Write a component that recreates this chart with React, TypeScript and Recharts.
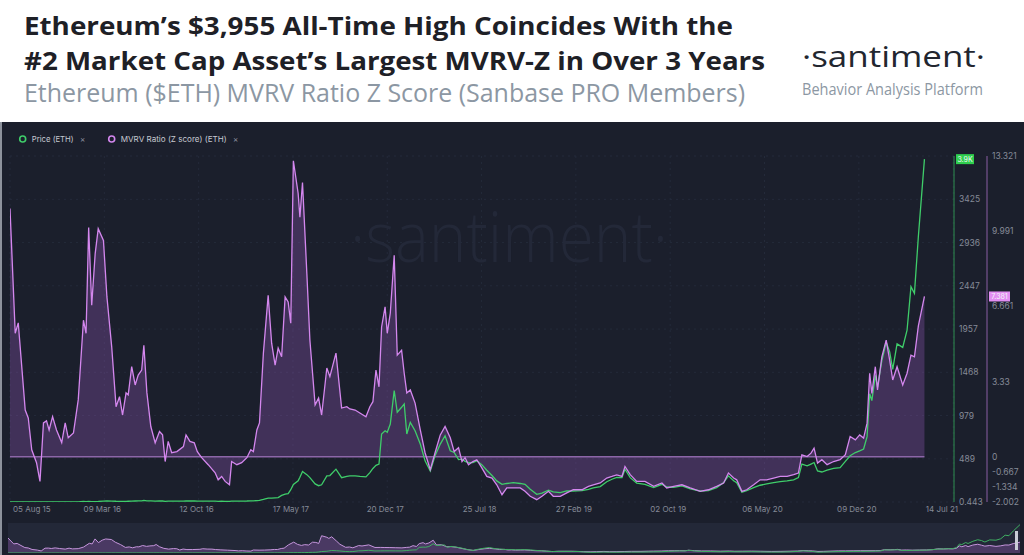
import React from 'react';
import { ComposedChart, Area, Line, XAxis, YAxis, CartesianGrid, ReferenceLine } from 'recharts';

const dates = [
  "2015-08-05","2015-08-17","2015-08-24","2015-09-09","2015-09-16","2015-09-24","2015-10-05","2015-10-13","2015-10-21","2015-10-28",
  "2015-11-03","2015-11-11","2015-11-20","2015-12-02","2015-12-10","2015-12-17","2015-12-29","2016-01-09","2016-01-21","2016-01-27",
  "2016-02-02","2016-02-09","2016-02-17","2016-02-24","2016-03-07","2016-03-15","2016-03-26","2016-04-05","2016-04-13","2016-04-20",
  "2016-04-28","2016-05-03","2016-05-11","2016-05-19","2016-05-26","2016-06-03","2016-06-08","2016-06-15","2016-06-24","2016-07-04",
  "2016-07-14","2016-07-21","2016-07-27","2016-08-03","2016-08-11","2016-08-23","2016-09-07","2016-09-13","2016-09-22","2016-10-02",
  "2016-10-09","2016-10-19","2016-11-03","2016-11-19","2016-11-26","2016-12-04","2016-12-12","2016-12-22","2016-12-27","2017-01-08",
  "2017-01-19","2017-01-31","2017-02-09","2017-02-15","2017-02-23","2017-03-01","2017-03-10","2017-03-21","2017-03-29","2017-04-06",
  "2017-04-13","2017-04-21","2017-04-29","2017-05-06","2017-05-12","2017-05-18","2017-05-29","2017-06-02","2017-06-08","2017-06-18",
  "2017-06-25","2017-07-07","2017-07-15","2017-07-22","2017-08-03","2017-08-10","2017-08-24","2017-09-06","2017-09-18","2017-09-25",
  "2017-10-07","2017-10-18","2017-11-01","2017-11-10","2017-11-17","2017-11-24","2017-12-01","2017-12-07","2017-12-15","2017-12-20",
  "2017-12-27","2018-01-05","2018-01-12","2018-01-22","2018-01-28","2018-02-03","2018-02-11","2018-02-22","2018-03-06","2018-03-17",
  "2018-03-29","2018-04-09","2018-04-21","2018-05-02","2018-05-14","2018-05-23","2018-06-02","2018-06-10","2018-06-17","2018-06-25",
  "2018-07-05","2018-07-14","2018-07-26","2018-08-06","2018-08-18","2018-08-29","2018-09-10","2018-09-21","2018-10-06","2018-10-22",
  "2018-11-02","2018-11-14","2018-11-29","2018-12-11","2018-12-26","2019-01-06","2019-01-22","2019-02-06","2019-02-21","2019-03-13",
  "2019-03-28","2019-04-08","2019-04-24","2019-05-09","2019-05-21","2019-06-01","2019-06-13","2019-06-20","2019-07-02","2019-07-17",
  "2019-08-05","2019-08-25","2019-09-13","2019-09-24","2019-10-10","2019-10-29","2019-11-17","2019-12-10","2019-12-29","2020-01-17",
  "2020-02-02","2020-02-13","2020-02-25","2020-03-03","2020-03-15","2020-03-26","2020-04-11","2020-04-26","2020-05-11","2020-05-27",
  "2020-06-11","2020-06-27","2020-07-12","2020-07-23","2020-07-31","2020-08-12","2020-08-21","2020-08-28","2020-09-05","2020-09-15",
  "2020-09-27","2020-10-12","2020-10-27","2020-11-08","2020-11-19","2020-12-01","2020-12-11","2020-12-20","2020-12-28","2021-01-03",
  "2021-01-08","2021-01-16","2021-01-21","2021-01-31","2021-02-10","2021-02-18","2021-02-25","2021-03-07","2021-03-20","2021-03-30",
  "2021-04-08","2021-04-16","2021-04-25","2021-05-09",
];

const mvrvZ = [
  11.0, 5.47, 5.93, 2.07, 1.72, 0.31, -0.26, -1.09, 1.5, 1.59, 1.19, 1.78, 1.19, 0.63, 1.5, 0.84, 1.06, 2.52, 6.05, 5.47,
  10.15, 6.71, 9.0, 10.1, 9.58, 7.08, 4.87, 2.22, 2.66, 1.85, 2.83, 2.74, 3.99, 3.18, 3.62, 3.84, 4.94, 2.83, 1.34, 0.62,
  1.12, 0.97, -0.21, 0.68, 0.18, 0.23, 0.45, 0.97, 0.68, 0.62, 0.23, -0.04, -0.35, -0.71, -1.02, -0.87, -1.09, -1.24, -0.21, -0.35,
  -0.26, -0.04, 0.31, 0.23, 1.19, 1.5, 4.59, 7.15, 5.03, 4.06, 4.81, 4.43, 7.08, 6.86, 5.92, 13.11, 11.66, 10.61, 12.15, 8.12,
  5.17, 2.3, 2.6, 1.85, 3.93, 3.55, 4.59, 2.16, 2.22, 2.12, 2.07, 1.94, 1.77, 2.22, 2.44, 3.84, 3.1, 5.75, 6.64, 5.47,
  6.36, 8.92, 4.5, 4.72, 3.7, 2.83, 2.96, 2.38, 1.19, 0.18, -0.57, 0.18, 0.97, 1.34, 0.84, 0.23, 0.4, -0.21, -0.04, -0.35,
  -0.21, -0.13, -0.5, -0.87, -0.94, -1.24, -1.68, -1.38, -1.38, -1.38, -1.53, -1.75, -1.9, -1.75, -1.53, -1.75, -1.75, -1.6, -1.46, -1.46,
  -1.31, -1.24, -1.16, -0.94, -0.87, -0.8, -0.87, -0.43, -0.79, -1.09, -1.09, -1.31, -1.16, -1.38, -1.31, -1.24, -1.38, -1.53, -1.46, -1.31,
  -1.16, -0.72, -0.94, -1.02, -1.53, -1.46, -1.24, -1.02, -1.02, -0.94, -0.87, -0.87, -0.79, -0.72, 0.09, 0.01, 0.16, 0.38, -0.28, -0.13,
  -0.35, -0.21, -0.13, 0.09, 0.9, 0.75, 0.97, 0.83, 1.49, 3.7, 2.81, 3.99, 2.96, 4.43, 5.17, 4.28, 3.4, 3.99, 3.18, 3.7,
  4.5, 4.43, 5.8, 7.1,
];

const priceEth = [
  2.8, 1.3, 1.2, 1.0, 0.9, 0.7, 0.9, 0.6, 1.0, 0.9, 0.95, 1.0, 0.9, 0.9, 1.0, 0.95, 1.0, 2.0, 6.0, 5.5,
  6, 5, 5.5, 6.5, 11, 12, 11, 9, 8.5, 8, 8, 9, 10, 12, 12.5, 14, 18, 13, 13, 11,
  12, 11.5, 8.5, 10, 9.5, 10, 11, 13, 12, 12, 11, 10.5, 10, 9.5, 8.5, 9, 8, 7.5, 10.5, 10.5,
  11, 12, 14, 14, 17, 19, 30, 45, 45, 48, 50, 75, 90, 95, 140, 200, 240, 280, 345, 310,
  276, 205, 185, 195, 296, 300, 372, 276, 290, 296, 296, 290, 285, 333, 380, 415, 429, 770, 807, 790,
  883, 1262, 1016, 1072, 1110, 770, 902, 807, 656, 466, 352, 523, 656, 750, 580, 561, 480, 486, 460, 447,
  447, 466, 420, 360, 300, 239, 201, 210, 219, 210, 201, 144, 88, 100, 135, 115, 106, 125, 125, 130,
  144, 160, 175, 230, 258, 280, 276, 372, 276, 215, 200, 163, 201, 170, 165, 182, 150, 125, 130, 163,
  220, 296, 240, 219, 110, 130, 163, 190, 205, 219, 230, 239, 250, 276, 429, 409, 430, 447, 352, 340,
  360, 380, 390, 460, 523, 560, 580, 600, 740, 1225, 1148, 1433, 1300, 1600, 1811, 1700, 1500, 1790, 1750, 1944,
  2437, 2361, 3005, 3880,
];

const xTickDates = ["2015-08-05","2016-03-09","2016-10-12","2017-05-17","2017-12-20","2018-07-25","2019-02-27","2019-10-02","2020-05-06","2020-12-09","2021-07-14"];
const xTickLabels = ["05 Aug 15","09 Mar 16","12 Oct 16","17 May 17","20 Dec 17","25 Jul 18","27 Feb 19","02 Oct 19","06 May 20","09 Dec 20","14 Jul 21"];
const xDomainEnd = "2021-07-16";
const priceTicks = [0.443, 489, 979, 1468, 1957, 2447, 2936, 3425];
const priceDomain = [0.443, 3915.6];
const mvrvTicks = [-2.002, -1.334, -0.667, 0, 3.33, 6.661, 9.991, 13.321];
const mvrvDomain = [-2.002, 13.321];
const lastPriceLabel = "3.9K";
const lastMvrvLabel = "7.381";

const toT = (s: string) => Date.parse(s + "T00:00:00Z");
const data = dates.map((d, i) => ({ t: toT(d), mvrv: mvrvZ[i], price: priceEth[i] }));
const tStart = toT(dates[0]);
const tLast = toT(dates[dates.length - 1]);
const tickTimes = xTickDates.map(toT);

const GREEN = '#3fcd6a';
const PURPLE = '#d487ee';
const BG = '#1b1f2c';
const FONT = 'Inter, "Noto Sans", sans-serif';
const PRICE_AXIS = 'a_price';
const MVRV_AXIS = 'b_mvrv';

const XTick = (props: any) => {
  const { x, y, payload } = props;
  const idx = tickTimes.indexOf(payload.value);
  const first = idx === 0;
  const last = idx === tickTimes.length - 1;
  const anchor = first ? 'start' : last ? 'end' : 'middle';
  const tx = first ? x + 3 : last ? x + 5 : x - 2;
  return (
    <text x={tx} y={y + 8} textAnchor={anchor} fill="#858a97" fontSize={8} fontFamily={FONT}>
      {xTickLabels[idx]}
    </text>
  );
};

const ValueBox = (props: any) => {
  const { viewBox, text, fill, dx, w } = props;
  if (!viewBox) return null;
  const x = viewBox.x + viewBox.width + dx;
  const y = viewBox.y;
  return (
    <g>
      <rect x={x} y={y - 5} width={w} height={10} fill={fill} />
      <text x={x + w / 2} y={y + 2.6} textAnchor="middle" fontSize={7} fill="#f4f4f8" fontFamily={FONT}>{text}</text>
    </g>
  );
};

export default function App() {
  return (
    <div style={{ position: 'absolute', left: 0, top: 0, width: 1024, height: 555, background: '#ffffff', overflow: 'hidden' }}>
      <svg width={1024} height={122} style={{ position: 'absolute', left: 0, top: 0 }}>
        <text x={24} y={35} fontFamily='"Open Sans", sans-serif' fontWeight={700} fontSize={25} fill="#1e2026" textLength={709} lengthAdjust="spacingAndGlyphs">Ethereum’s $3,955 All-Time High Coincides With the</text>
        <text x={24} y={70} fontFamily='"Open Sans", sans-serif' fontWeight={700} fontSize={25} fill="#1e2026" textLength={741} lengthAdjust="spacingAndGlyphs">#2 Market Cap Asset’s Largest MVRV-Z in Over 3 Years</text>
        <text x={24} y={102} fontFamily='"Open Sans", sans-serif' fontWeight={400} fontSize={26} fill="#8c97a3" textLength={721} lengthAdjust="spacingAndGlyphs">Ethereum ($ETH) MVRV Ratio Z Score (Sanbase PRO Members)</text>
        <text x={802} y={67} fontFamily='"Open Sans", sans-serif' fontWeight={400} fontSize={30} fill="#22262f" textLength={183} lengthAdjust="spacingAndGlyphs">·santiment·</text>
        <text x={802} y={95} fontFamily='"Open Sans", sans-serif' fontWeight={400} fontSize={15.5} fill="#8c97a3" textLength={181} lengthAdjust="spacingAndGlyphs">Behavior Analysis Platform</text>
      </svg>
      <div style={{ position: 'absolute', left: 0, top: 122, width: 1024, height: 433, background: BG }} />
      <div style={{ position: 'absolute', left: 0, top: 122, width: 2, height: 433, background: '#8d929c' }} />
      <svg width={1024} height={433} style={{ position: 'absolute', left: 0, top: 122 }}>
        <text x={350} y={140} fontFamily='"Open Sans", sans-serif' fontWeight={300} fontSize={70} fill="#232838" textLength={318} lengthAdjust="spacingAndGlyphs">·santiment·</text>
        <circle cx={22.7} cy={17} r={3} fill="none" stroke={GREEN} strokeWidth={1.6} />
        <text x={31.7} y={20} fontFamily={FONT} fontSize={8} fill="#c6c9d1" textLength={42} lengthAdjust="spacingAndGlyphs">Price (ETH)</text>
        <text x={80} y={20} fontFamily={FONT} fontSize={8} fill="#8f94a0">×</text>
        <circle cx={111.7} cy={17} r={3} fill="none" stroke={PURPLE} strokeWidth={1.6} />
        <text x={120.7} y={20} fontFamily={FONT} fontSize={8} fill="#c6c9d1" textLength={106} lengthAdjust="spacingAndGlyphs">MVRV Ratio (Z score) (ETH)</text>
        <text x={233} y={20} fontFamily={FONT} fontSize={8} fill="#8f94a0">×</text>
      </svg>
      <div style={{ position: 'absolute', left: 0, top: 0 }}>
        <ComposedChart width={1024} height={555} data={data} margin={{ top: 156, right: 0, bottom: 33, left: 10 }}>
          <CartesianGrid yAxisId={PRICE_AXIS} stroke="#242a3a" strokeDasharray="2 4" />
          <XAxis dataKey="t" type="number" domain={[tStart, toT(xDomainEnd)]} ticks={tickTimes} interval={0}
            tick={<XTick />} tickLine={false} axisLine={false} tickSize={0} tickMargin={2} height={20} allowDataOverflow />
          <YAxis yAxisId={PRICE_AXIS} orientation="right" width={33} domain={priceDomain} ticks={priceTicks} interval={0}
            tickSize={0} tickMargin={5} tickLine={false} axisLine={{ stroke: '#2f8f50' }}
            tick={{ fill: '#858a97', fontSize: 8.5, fontFamily: FONT }} tickFormatter={(v: number) => String(v)} allowDataOverflow />
          <YAxis yAxisId={MVRV_AXIS} orientation="right" width={37} domain={mvrvDomain} ticks={mvrvTicks} interval={0}
            tickSize={0} tickMargin={5} tickLine={false} axisLine={{ stroke: '#8a5ea3' }}
            tick={{ fill: '#858a97', fontSize: 8.5, fontFamily: FONT }} tickFormatter={(v: number) => String(v)} allowDataOverflow />
          <Area yAxisId={MVRV_AXIS} dataKey="mvrv" type="linear" stroke="none" fill="#9c5cc2" fillOpacity={0.3} baseValue={0} isAnimationActive={false} />
          <ReferenceLine yAxisId={MVRV_AXIS} segment={[{ x: tStart, y: 0 }, { x: tLast, y: 0 }]} stroke="#8c66a8" strokeWidth={1.6} />
          <Line yAxisId={PRICE_AXIS} dataKey="price" type="linear" stroke={GREEN} strokeWidth={1.3} dot={false} isAnimationActive={false} />
          <Line yAxisId={MVRV_AXIS} dataKey="mvrv" type="linear" stroke={PURPLE} strokeWidth={1.3} dot={false} isAnimationActive={false} />
          <ReferenceLine yAxisId={PRICE_AXIS} y={priceEth[priceEth.length - 1]} stroke="none"
            label={<ValueBox text={lastPriceLabel} fill="#2fcf4e" dx={2} w={18} />} />
          <ReferenceLine yAxisId={MVRV_AXIS} y={mvrvZ[mvrvZ.length - 1]} stroke="none"
            label={<ValueBox text={lastMvrvLabel} fill="#e28ef2" dx={35} w={21} />} />
        </ComposedChart>
      </div>
      <div style={{ position: 'absolute', left: 8, top: 523, width: 1012, height: 30, background: '#232838' }} />
      <div style={{ position: 'absolute', left: 8, top: 523 }}>
        <ComposedChart width={1012} height={30} data={data} margin={{ top: 0, right: 0, bottom: 0, left: 0 }}>
          <XAxis dataKey="t" type="number" domain={[tStart, tLast]} hide />
          <YAxis yAxisId="m" domain={[-3, 25]} hide />
          <YAxis yAxisId="p" domain={[0, 4100]} hide />
          <Area yAxisId="m" dataKey="mvrv" type="linear" stroke="#c595dc" strokeWidth={1} fill="#7a4e98" fillOpacity={0.45} baseValue={-3} isAnimationActive={false} />
          <Line yAxisId="p" dataKey="price" type="linear" stroke="#3fae62" strokeWidth={1} dot={false} isAnimationActive={false} />
        </ComposedChart>
      </div>
      <div style={{ position: 'absolute', left: 1015, top: 531, width: 3, height: 19, background: '#c9cdd6' }} />
    </div>
  );
}
